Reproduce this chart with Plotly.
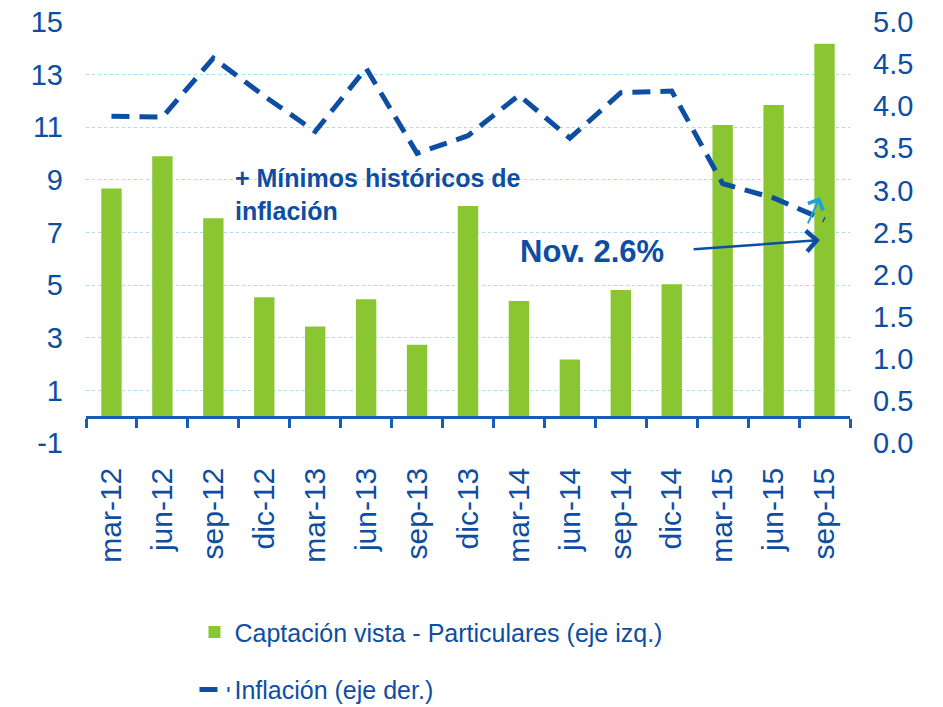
import plotly.graph_objects as go

categories = ["mar-12", "jun-12", "sep-12", "dic-12", "mar-13", "jun-13", "sep-13", "dic-13",
              "mar-14", "jun-14", "sep-14", "dic-14", "mar-15", "jun-15", "sep-15"]
captacion = [8.67, 9.90, 7.54, 4.54, 3.43, 4.46, 2.73, 8.01, 4.40, 2.17, 4.81, 5.03, 11.09, 11.85, 14.17]
inflacion = [3.88, 3.87, 4.57, 4.12, 3.70, 4.45, 3.44, 3.65, 4.13, 3.62, 4.16, 4.18, 3.08, 2.91, 2.65]

left_ticks = [-1, 1, 3, 5, 7, 9, 11, 13, 15]
left_labels = ["-1", "1", "3", "5", "7", "9", "11", "13", "15"]
right_ticks = [0.0, 0.5, 1.0, 1.5, 2.0, 2.5, 3.0, 3.5, 4.0, 4.5, 5.0]
right_labels = ["0.0", "0.5", "1.0", "1.5", "2.0", "2.5", "3.0", "3.5", "4.0", "4.5", "5.0"]

left_range = [-1, 15]
right_range = [0, 5]

BLUE = "#0D4EA2"
GREEN = "#8AC632"
FONT = "Liberation Sans, Arial, sans-serif"

fig = go.Figure()
fig.add_trace(go.Bar(
    x=categories, y=captacion, name="Captación vista - Particulares (eje izq.)",
    marker=dict(color=GREEN, line=dict(width=0)), yaxis="y", legendgroup="a",
))
fig.add_trace(go.Scatter(
    x=categories, y=inflacion, name="Inflación (eje der.)", mode="lines",
    line=dict(color=BLUE, width=5, dash="18px,10px"), yaxis="y2", legendgroup="b",
))

x_axis_pos = (0 - left_range[0]) / (left_range[1] - left_range[0])

fig.update_layout(
    width=943, height=707,
    margin=dict(l=78, r=101, t=14, b=272),
    paper_bgcolor="white", plot_bgcolor="white",
    font=dict(family=FONT, color=BLUE),
    bargap=0.6,
    showlegend=True,
    legend=dict(
        orientation="v", xref="paper", x=0.142, xanchor="left",
        yref="container", y=0.004, yanchor="bottom",
        font=dict(size=25, color=BLUE, family=FONT),
        traceorder="grouped", tracegroupgap=22,
        bgcolor="rgba(0,0,0,0)",
    ),
    xaxis=dict(
        type="category", anchor="free", position=x_axis_pos,
        showline=True, linecolor="#1A5BB5", linewidth=3,
        ticks="outside", tickson="boundaries", ticklen=9, tickwidth=2.5, tickcolor="#1A5BB5",
        tickangle=-90, tickfont=dict(size=30, color=BLUE, family=FONT),
        ticklabelstandoff=37,
        showgrid=False, zeroline=False, automargin=False,
    ),
    yaxis=dict(
        range=left_range, tickmode="array", tickvals=left_ticks, ticktext=left_labels,
        showgrid=True, gridcolor="#A9DDF3", griddash="dot", gridwidth=1,
        zeroline=False, showline=False,
        tickfont=dict(size=29, color=BLUE, family=FONT),
        ticklabelstandoff=22, automargin=False, ticklabeloverflow="allow",
    ),
    yaxis2=dict(
        range=right_range, tickmode="array", tickvals=right_ticks, ticktext=right_labels,
        overlaying="y", side="right", showgrid=False, zeroline=False, showline=False,
        tickfont=dict(size=29, color=BLUE, family=FONT),
        ticklabelstandoff=22, automargin=False, ticklabeloverflow="allow",
    ),
)

fig.add_annotation(
    text="<b>+ Mínimos históricos de<br>inflación</b>", xref="paper", yref="paper",
    x=0.193, y=0.668, xanchor="left", yanchor="top", align="left", showarrow=False,
    font=dict(size=25, color=BLUE, family=FONT),
)
fig.add_annotation(
    text="<b>Nov. 2.6%</b>", xref="paper", yref="paper",
    x=0.566, y=0.455, xanchor="left", yanchor="middle", showarrow=False,
    font=dict(size=31, color=BLUE, family=FONT),
)
fig.add_annotation(
    text="", xref="x", yref="y2", x=13.91, y=2.41,
    axref="x", ayref="y2", ax=11.40, ay=2.30,
    showarrow=True, arrowhead=4, arrowsize=1.6, arrowwidth=2.5, arrowcolor=BLUE,
)
fig.add_annotation(
    text="", xref="x", yref="y2", x=13.91, y=2.92,
    axref="x", ayref="y2", ax=13.66, ay=2.59,
    showarrow=True, arrowhead=4, arrowsize=1.6, arrowwidth=2, arrowcolor="#1BA1E2",
)

fig.write_html("out.html")
